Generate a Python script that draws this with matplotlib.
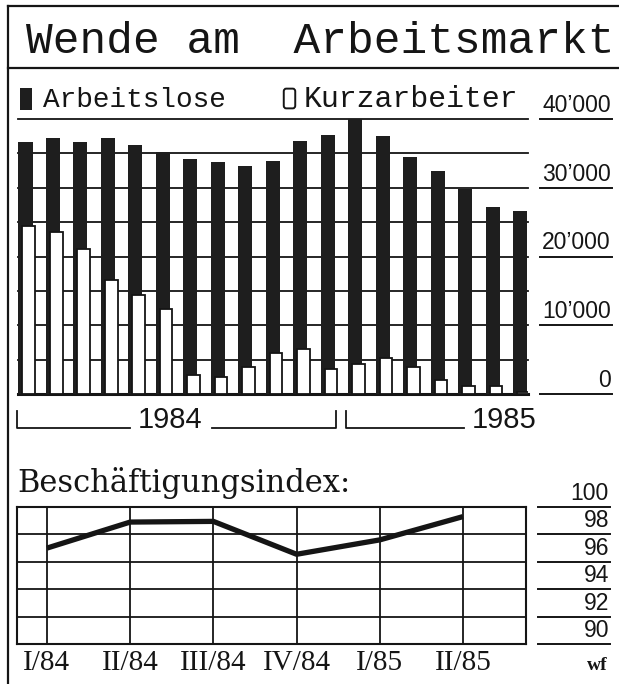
import matplotlib
matplotlib.use("Agg")
import matplotlib.pyplot as plt
from matplotlib.lines import Line2D
from matplotlib.patches import Rectangle, FancyBboxPatch

# monthly values Jan 1984 .. Jul 1985
months = ["1/84", "2/84", "3/84", "4/84", "5/84", "6/84", "7/84", "8/84", "9/84",
          "10/84", "11/84", "12/84", "1/85", "2/85", "3/85", "4/85", "5/85", "6/85", "7/85"]
arbeitslose = [36700, 37200, 36700, 37200, 36200, 35200, 34200, 33700, 33100, 33900,
               36800, 37700, 40000, 37500, 34500, 32500, 29800, 27200, 26600]
kurzarbeiter = [24500, 23500, 21100, 16600, 14400, 12400, 2700, 2500, 4000, 5900,
                6600, 3600, 4300, 5200, 3900, 2100, 1200, 1100, 300]
bar_ticks = [0, 10000, 20000, 30000, 40000]
bar_tick_labels = ["0", "10’000", "20’000", "30’000", "40’000"]

# quarterly employment index
quarters = ["I/84", "II/84", "III/84", "IV/84", "I/85", "II/85"]
index_values = [97.0, 98.9, 98.95, 96.55, 97.6, 99.3]
index_ticks = [90, 92, 94, 96, 98, 100]

W, H = 619, 684
INK = "#151515"
BAR = "#1e1e1e"

fig = plt.figure(figsize=(W / 100, H / 100), dpi=100)
fig.patch.set_facecolor("white")


def fx(x):
    return x / W


def fy(y):
    return 1 - y / H


def fig_line(xs, ys, lw=1.4):
    fig.add_artist(Line2D([fx(x) for x in xs], [fy(y) for y in ys], color=INK, lw=lw))


# frame and title
fig_line([8, 619], [6, 6], lw=1.6)
fig_line([8, 8], [6, 684], lw=1.6)
fig_line([8, 619], [68, 68], lw=1.6)
fig.text(fx(26), fy(53), "Wende am  Arbeitsmarkt", family="Liberation Mono",
         fontsize=32, color=INK, va="baseline", ha="left")

# legend
fig.add_artist(Rectangle((fx(20), fy(110)), 12 / W, 22 / H, facecolor=BAR, edgecolor="none"))
fig.text(fx(43), fy(107), "Arbeitslose", family="Liberation Mono", fontsize=20,
         color=INK, va="baseline")
fig.add_artist(FancyBboxPatch((fx(285), fy(107)), 9 / W, 17 / H,
                              boxstyle="round,pad=0.002,rounding_size=0.004",
                              facecolor="white", edgecolor=INK, lw=1.4))
fig.text(fx(304), fy(107), "Kurzarbeiter", family="Liberation Mono", fontsize=21.5,
         color=INK, va="baseline")

# top chart: bars
ax = fig.add_axes([fx(18), fy(394), 510 / W, 275 / H])
x = list(range(len(months)))
for v in range(0, 40001, 5000):
    ax.axhline(v, color=INK, lw=2.2 if v == 0 else 1.3, zorder=1, clip_on=False)
ax.bar(x, arbeitslose, width=0.51, color=BAR, zorder=2)
ax.bar([i + 0.12 for i in x], kurzarbeiter, width=0.46, color="white",
       edgecolor=INK, linewidth=1.3, zorder=3)
ax.set_xlim(-0.273, 18.29)
ax.set_ylim(0, 40000)
ax.axis("off")

ty = ax.get_yaxis_transform()
for v, lab in zip(bar_ticks, bar_tick_labels):
    ax.plot([1.0235, 1.1647], [v, v], color=INK, lw=1.4, transform=ty, clip_on=False)
    ax.text(1.1627, v + 300, lab, transform=ty, ha="right", va="bottom",
            family="Liberation Sans", fontsize=16.5, color=INK)

# year brackets
fig_line([17, 17, 130], [411, 428, 428], lw=1.3)
fig_line([212, 336, 336], [428, 428, 411], lw=1.3)
fig.text(fx(170), fy(428), "1984", family="Liberation Sans", fontsize=21,
         color=INK, ha="center", va="baseline")
fig_line([346, 346, 464], [411, 428, 428], lw=1.3)
fig.text(fx(472), fy(428), "1985", family="Liberation Sans", fontsize=21,
         color=INK, ha="left", va="baseline")

# bottom chart: employment index
fig.text(fx(17), fy(492), "Beschäftigungsindex:", family="DejaVu Serif",
         fontsize=22, color=INK, va="baseline")

ax2 = fig.add_axes([fx(17), fy(644), 509 / W, 137 / H])
qx = list(range(len(quarters)))
for v in index_ticks:
    ax2.axhline(v, color=INK, lw=1.3, zorder=1)
for q in qx:
    ax2.axvline(q, color=INK, lw=1.3, zorder=1)
ax2.plot(qx, index_values, color=INK, lw=3.8, solid_capstyle="butt", zorder=3)
ax2.set_xlim(-0.36, 5.757)
ax2.set_ylim(90, 100)
ax2.set_xticks([])
ax2.set_yticks([])
for s in ax2.spines.values():
    s.set_linewidth(1.5)
    s.set_color(INK)

for q, lab in zip(qx, quarters):
    ax2.text(q, -0.045, lab, transform=ax2.get_xaxis_transform(), ha="center", va="top",
             family="Liberation Serif", fontsize=21, color=INK)

ty2 = ax2.get_yaxis_transform()
for v in index_ticks:
    ax2.plot([1.0236, 1.165], [v, v], color=INK, lw=1.4, transform=ty2, clip_on=False)
    ax2.text(1.163, v + 0.15, str(v), transform=ty2, ha="right", va="bottom",
             family="Liberation Sans", fontsize=16.5, color=INK)

fig.text(fx(608), fy(670), "wf", family="Liberation Serif", fontweight="bold",
         fontsize=14, color=INK, ha="right", va="baseline")

fig.savefig("out.png", dpi=100, facecolor="white")
